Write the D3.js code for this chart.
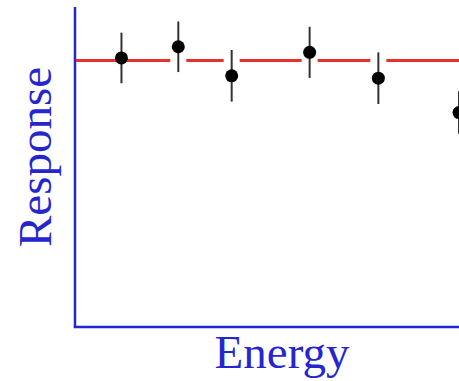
<!DOCTYPE html>
<html>
<head>
<meta charset="utf-8">
<script src="https://cdn.jsdelivr.net/npm/d3@7"></script>
<style>
  body { margin: 0; background: #fff; }
  svg { display: block; }
  .label { font-family: "Liberation Serif", "DejaVu Serif", serif; fill: #2626cf; }
</style>
</head>
<body>
<div id="vis"></div>
<script>
// data
var energy   = [1.21, 2.69, 4.08, 6.11, 7.90, 10.0];
var response = [1.01, 1.052, 0.943, 1.031, 0.934, 0.805];
var errors   = [0.095, 0.095, 0.097, 0.096, 0.097, 0.08];
var expected = 1.0;

var width = 459;
var height = 381;
var margin = { left: 75, bottom: 54, top: 7 };

var svg = d3.select('#vis')
  .append('svg')
  .attr('width', width)
  .attr('height', height);

var x = d3.scaleLinear().domain([0, 10]).range([margin.left, width]);
var y = d3.scaleLinear().domain([0, 1.19]).range([height - margin.bottom, 10]);

var blue = '#2626cf';

// axes: plain lines, no ticks
svg.append('line')
  .attr('x1', x(0)).attr('x2', x(0))
  .attr('y1', margin.top).attr('y2', y(0))
  .attr('stroke', blue).attr('stroke-width', 2.5);

svg.append('line')
  .attr('x1', x(0) - 1.25).attr('x2', width)
  .attr('y1', y(0)).attr('y2', y(0))
  .attr('stroke', blue).attr('stroke-width', 2.5);

// expected response
svg.append('line')
  .attr('x1', x(0) + 1).attr('x2', width)
  .attr('y1', y(expected)).attr('y2', y(expected))
  .attr('stroke', '#e8302c').attr('stroke-width', 3);

var pts = energy.map(function(d, i) {
  return { e: d, r: response[i], err: errors[i], i: i };
});

var g = svg.selectAll('.pt').data(pts).enter().append('g').attr('class', 'pt');

// white halo breaks the red line behind the error bars (not the first one)
g.filter(function(d) { return d.i > 0; })
  .append('line')
  .attr('x1', function(d) { return x(d.e); })
  .attr('x2', function(d) { return x(d.e); })
  .attr('y1', function(d) { return y(d.r + d.err); })
  .attr('y2', function(d) { return y(d.r - d.err); })
  .attr('stroke', '#fff').attr('stroke-width', 16);

g.append('line')
  .attr('x1', function(d) { return x(d.e); })
  .attr('x2', function(d) { return x(d.e); })
  .attr('y1', function(d) { return y(d.r + d.err); })
  .attr('y2', function(d) { return y(d.r - d.err); })
  .attr('stroke', '#333').attr('stroke-width', 2);

g.append('circle')
  .attr('cx', function(d) { return x(d.e); })
  .attr('cy', function(d) { return y(d.r); })
  .attr('r', 6.5)
  .attr('fill', '#000');

// axis titles
svg.append('text')
  .attr('class', 'label')
  .attr('x', 282)
  .attr('y', 368)
  .attr('text-anchor', 'middle')
  .style('font-size', '47px')
  .text('Energy');

svg.append('text')
  .attr('class', 'label')
  .attr('transform', 'translate(51,157) rotate(-90)')
  .attr('text-anchor', 'middle')
  .style('font-size', '47px')
  .text('Response');
</script>
</body>
</html>
